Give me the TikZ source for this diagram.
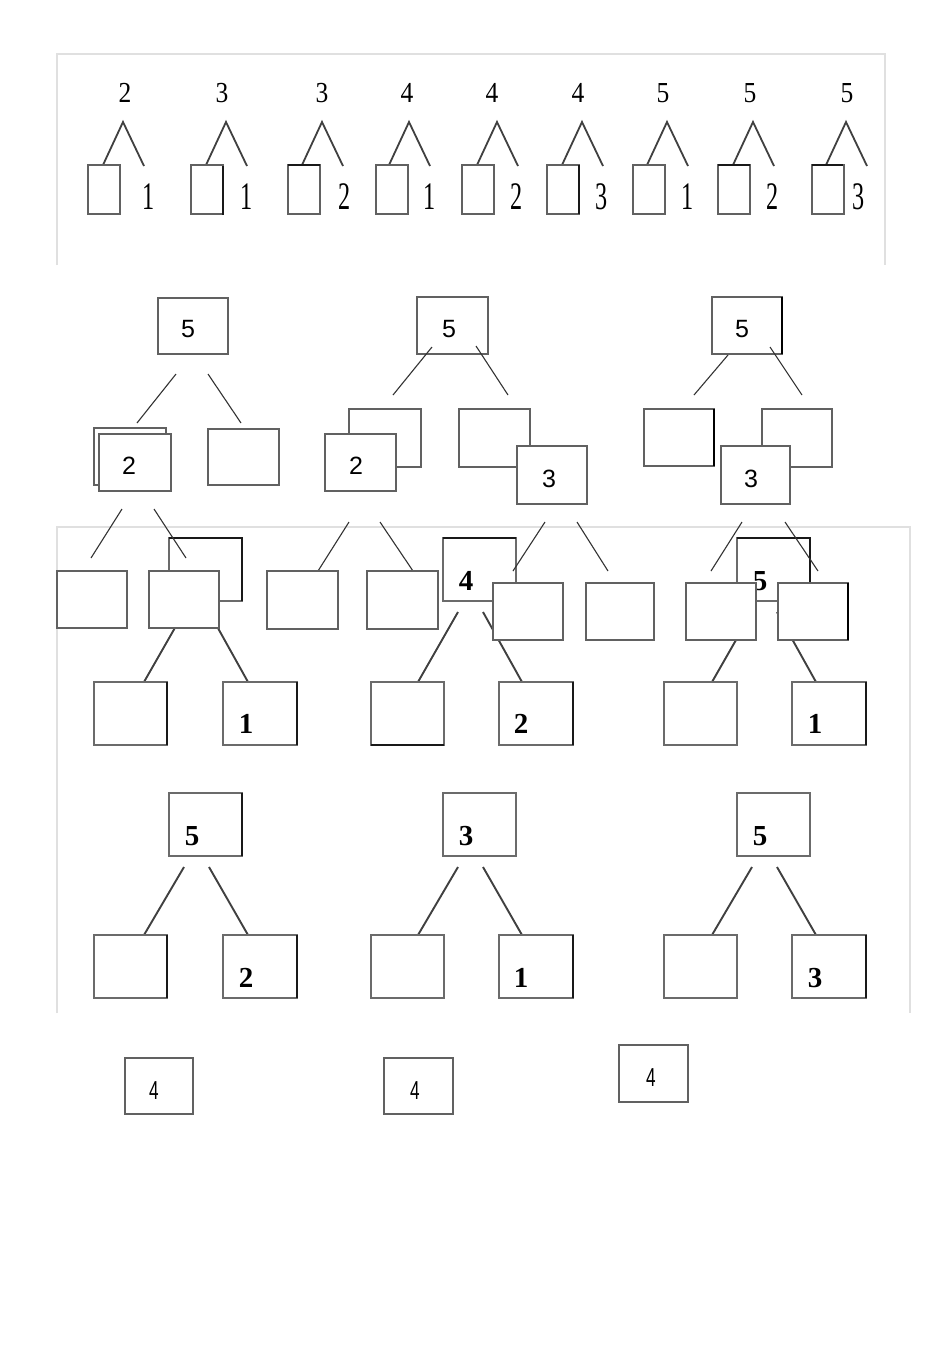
\documentclass[tikz,border=0pt]{standalone}
\usepackage{fontspec}
\setmainfont{Liberation Serif}
\newfontfamily\arialf{Liberation Sans}
\usepackage{graphicx}
\begin{document}
\begin{tikzpicture}[x=1pt,y=-1pt,
  frameline/.style={draw=black!12,line width=1.5},
  tline/.style={draw=black!75,line width=1.8},
  tbox/.style={draw=black!62,line width=1.7},
  thick edge/.style={draw=black!90,line width=2.6},
  sbox/.style={draw=black!62,fill=white,line width=1.3},
  sline/.style={draw=black!80,line width=1.1},
  pbox/.style={draw=black!58,line width=2},
  pline/.style={draw=black!75,line width=1.9},
  topnum/.style={inner sep=0pt,font=\fontsize{29}{29}\selectfont},
  toplab/.style={inner sep=0pt,font=\fontsize{39}{39}\selectfont},
  snum/.style={inner sep=0pt,font=\arialf\fontsize{25}{25}\selectfont},
  pnum/.style={inner sep=0pt,font=\bfseries\fontsize{29}{29}\selectfont},
  fnum/.style={inner sep=0pt,font=\arialf\fontsize{26}{26}\selectfont}]
\useasboundingbox[fill=white] (0,0) rectangle (950,1345);

% ---------------- top panel ----------------
\draw[frameline] (57,265) -- (57,54) -- (885,54) -- (885,265);
\foreach \i/\ax/\nx/\bx/\lx/\n/\l in {
  1/123/125/88/149/2/1, 2/226/222/191/247/3/1, 3/322/322/288/345/3/2,
  4/409/407/376/430/4/1, 5/497/492/462/517/4/2, 6/582/578/547/602/4/3,
  7/667/663/633/688/5/1, 8/753/750/718/773/5/2, 9/846/847/812/859/5/3}{
  \node[topnum] (tn\i) at (\nx,93) {\scalebox{0.88}[1]{\n}};
  \coordinate (ta\i) at (\ax,122);
  \coordinate (tl\i) at (\ax-20,165);
  \coordinate (tr\i) at (\ax+21,166);
  \draw[tline] (tl\i) -- (ta\i) -- (tr\i);
  \draw[tbox] (\bx,165) rectangle (\bx+32,214);
  \node[toplab] (tlab\i) at (\lx,197) {\scalebox{0.62}[1]{\l}};
}
\draw[thick edge] (288,165) -- (320,165);
\draw[thick edge] (718,165) -- (750,165);
\draw[thick edge] (812,165) -- (843,165);
\draw[thick edge] (223,166) -- (223,215);
\draw[thick edge] (579,165) -- (579,214);

% ---------------- bottom panel (underlying) ----------------
\draw[frameline] (57,1013) -- (57,527) -- (910,527) -- (910,1013);
\foreach \r/\ty/\by in {1/538/682, 2/793/935}{
  \foreach \c/\tx/\lx/\rx in {1/169/94/223, 2/443/371/499, 3/737/664/792}{
    \draw[pbox] (\tx,\ty) rectangle (\tx+73,\ty+63);
    \coordinate (pa\r\c) at (\tx+15,\ty+74);
    \coordinate (pb\r\c) at (\tx+40,\ty+74);
    \draw[pline] (pa\r\c) -- (\tx-25,\by);
    \draw[pline] (pb\r\c) -- (\tx+79,\by);
    \draw[pbox] (\lx,\by) rectangle (\lx+73,\by+63);
    \draw[pbox] (\rx,\by) rectangle (\rx+74,\by+63);
    \draw[thick edge] (\rx+74,\by) -- (\rx+74,\by+63);
  }
}
\draw[thick edge] (169,538) -- (242,538) -- (242,601);
\draw[thick edge] (443,538) -- (516,538);
\draw[thick edge] (737,538) -- (810,538) -- (810,601);
\draw[thick edge] (242,793) -- (242,856);
\draw[thick edge] (167,682) -- (167,745);
\draw[thick edge] (167,935) -- (167,998);
\draw[thick edge] (371,745) -- (444,745);
\node[pnum] (p4) at (466,581) {4};
\node[pnum] (p5a) at (760,581) {5};
\node[pnum] (p1a) at (246,724) {1};
\node[pnum] (p2a) at (521,724) {2};
\node[pnum] (p1b) at (815,724) {1};
\node[pnum] (p5b) at (192,836) {5};
\node[pnum] (p3) at (466,836) {3};
\node[pnum] (p5c) at (760,836) {5};
\node[pnum] (p2b) at (246,978) {2};
\node[pnum] (p1c) at (521,978) {1};
\node[pnum] (p3b) at (815,978) {3};

% ---------------- overlay trees ----------------
% tree A
\draw[sbox] (158,298) rectangle (228,354);
\node[snum] (A5) at (188,329) {5};
\draw[sline] (176,374) -- (137,423);
\draw[sline] (208,374) -- (241,423);
\draw[sbox] (94,428) rectangle (166,485);
\draw[sbox] (99,434) rectangle (171,491);
\node[snum] (A2) at (129,466) {2};
\draw[sbox] (208,429) rectangle (279,485);
\draw[sline] (122,509) -- (91,558);
\draw[sline] (154,509) -- (186,558);
\draw[sbox] (57,571) rectangle (127,628);
\draw[sbox] (149,571) rectangle (219,628);

% tree B
\draw[sbox] (417,297) rectangle (488,354);
\node[snum] (B5) at (449,329) {5};
\draw[sline] (432,347) -- (393,395);
\draw[sline] (476,346) -- (508,395);
\draw[sbox] (349,409) rectangle (421,467);
\draw[sbox] (325,434) rectangle (396,491);
\node[snum] (B2) at (356,466) {2};
\draw[sbox] (459,409) rectangle (530,467);
\draw[sbox] (517,446) rectangle (587,504);
\node[snum] (B3) at (549,479) {3};
\draw[sline] (349,522) -- (318,571);
\draw[sline] (380,522) -- (413,571);
\draw[sbox] (267,571) rectangle (338,629);
\draw[sbox] (367,571) rectangle (438,629);
\draw[sline] (545,522) -- (513,571);
\draw[sline] (577,522) -- (608,571);
\draw[sbox] (493,583) rectangle (563,640);
\draw[sbox] (586,583) rectangle (654,640);

% tree C
\draw[sbox] (712,297) rectangle (782,354);
\draw[draw=black,line width=1.8] (782,297) -- (782,354);
\node[snum] (C5) at (742,329) {5};
\draw[sline] (728,355) -- (694,395);
\draw[sline] (770,347) -- (802,395);
\draw[sbox] (644,409) rectangle (714,466);
\draw[draw=black,line width=1.8] (714,409) -- (714,466);
\draw[sbox] (762,409) rectangle (832,467);
\draw[sbox] (721,446) rectangle (790,504);
\node[snum] (C3) at (751,479) {3};
\draw[sline] (742,522) -- (711,571);
\draw[sline] (785,522) -- (818,571);
\draw[sbox] (686,583) rectangle (756,640);
\draw[sbox] (778,583) rectangle (848,640);
\draw[draw=black,line width=1.8] (848,583) -- (848,640);

% ---------------- floating boxes ----------------
\draw[sbox] (125,1058) rectangle (193,1114);
\node[fnum] (F1) at (154,1091) {\scalebox{0.66}[1]{4}};
\draw[sbox] (384,1058) rectangle (453,1114);
\node[fnum] (F2) at (415,1091) {\scalebox{0.66}[1]{4}};
\draw[sbox] (619,1045) rectangle (688,1102);
\node[fnum] (F3) at (651,1078) {\scalebox{0.66}[1]{4}};
\end{tikzpicture}
\end{document}
